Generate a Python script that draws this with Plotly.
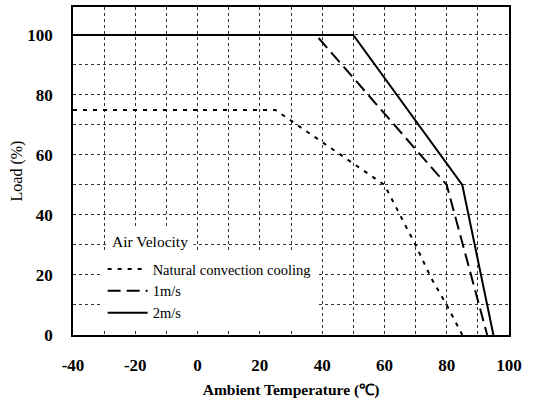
import plotly.graph_objects as go

# Data
natural_x = [-40, 25, 60, 65, 70, 75, 80, 85]
natural_y = [75, 75, 50, 40, 30, 19, 10, 0]
v1_x = [-40, 38, 80, 93]
v1_y = [100, 100, 50, 0]
v2_x = [-40, 50, 85, 95]
v2_y = [100, 100, 50, 0]

x_tickvals = list(range(-40, 101, 10))
x_ticktext = [str(v) if v % 20 == 0 else "" for v in x_tickvals]
y_tickvals = list(range(0, 111, 10))
y_ticktext = [str(v) if (v % 20 == 0 and v <= 100) else "" for v in y_tickvals]

serif = "Liberation Serif, Times New Roman, serif"

fig = go.Figure()
fig.add_trace(go.Scatter(x=natural_x, y=natural_y, mode="lines", name="Natural convection cooling",
                         line=dict(color="black", width=2, dash="4px,6px")))
fig.add_trace(go.Scatter(x=v1_x, y=v1_y, mode="lines", name="1m/s",
                         line=dict(color="black", width=2, dash="13px,6px")))
fig.add_trace(go.Scatter(x=v2_x, y=v2_y, mode="lines", name="2m/s",
                         line=dict(color="black", width=2)))

fig.add_annotation(text="Air Velocity", xref="paper", yref="paper", x=0.076, y=0.285,
                   xanchor="left", yanchor="middle", showarrow=False,
                   font=dict(family=serif, size=15.5, color="black"),
                   bgcolor="white", borderpad=5)

fig.update_layout(
    width=535, height=403,
    margin=dict(l=73, r=26, t=7, b=68, autoexpand=False),
    paper_bgcolor="white", plot_bgcolor="white",
    font=dict(family=serif, color="black"),
    showlegend=True,
    legend=dict(x=0.068, y=0.25, xanchor="left", yanchor="top",
                bgcolor="white", borderwidth=0,
                font=dict(family=serif, size=14.5, color="black"),
                tracegroupgap=0, itemwidth=40),
    xaxis=dict(range=[-40, 100], tickvals=x_tickvals, ticktext=x_ticktext,
               showgrid=True, gridcolor="#333", griddash="3px,3px", gridwidth=1,
               showline=True, linecolor="black", linewidth=1.5, mirror=True,
               ticks="", zeroline=False, ticklabelstandoff=14, automargin=False,
               tickfont=dict(family=serif, size=17, color="black", weight="bold"),
               title=dict(text="Ambient Temperature (℃)", standoff=10,
                          font=dict(family=serif, size=15.5, color="black", weight="bold"))),
    yaxis=dict(range=[0, 109.3], tickvals=y_tickvals, ticktext=y_ticktext,
               showgrid=True, gridcolor="#333", griddash="3px,3px", gridwidth=1,
               showline=True, linecolor="black", linewidth=1.5, mirror=True,
               ticks="", zeroline=False, ticklabelstandoff=15, automargin=False,
               tickfont=dict(family=serif, size=17, color="black", weight="bold"),
               title=dict(text="Load (%)", standoff=1,
                          font=dict(family=serif, size=16, color="black"))),
)

fig.write_html("out.html")
